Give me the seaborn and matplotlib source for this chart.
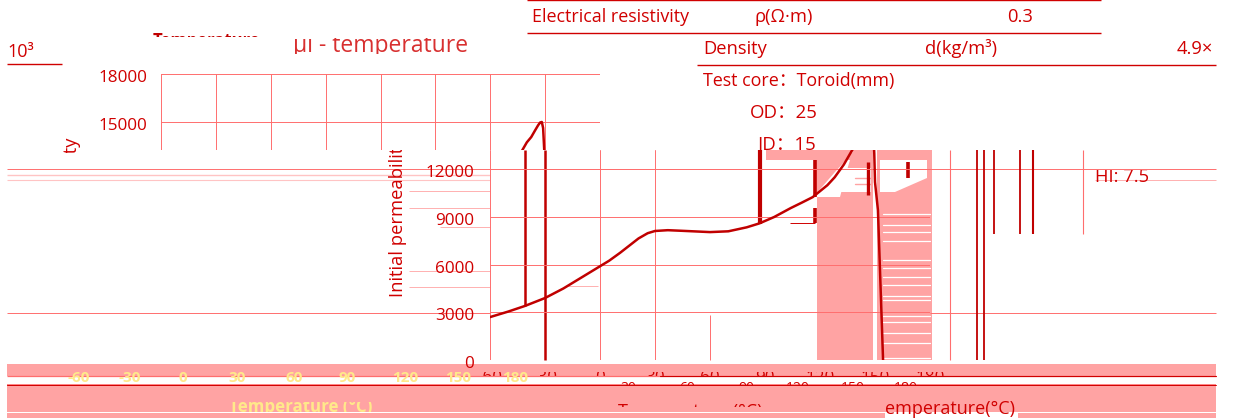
import matplotlib
matplotlib.use('Agg')
import matplotlib.pyplot as plt
from matplotlib.transforms import Bbox, ScaledTranslation
from matplotlib.patches import Polygon, Rectangle
import pandas as pd
import seaborn as sns

W, H = 1234, 419
RED = '#d00000'
DARK = '#c00000'
GRID = '#ff6e6e'
PINK = '#ffa3a3'
YEL = '#ffe98a'

# curve
temp = [-60, -50, -41, -30, -20, -10, 0, 5, 11, 16, 21, 26, 30, 37, 45, 60, 70, 80, 87, 95, 104, 110, 116, 124, 128,
        133, 137.5, 140, 142.4, 144.5, 146.2, 147.3, 148.2, 148.9, 149.3, 149.6, 150, 151.6, 154.4]
mu = [2700, 3050, 3400, 3900, 4500, 5200, 5900, 6250, 6750, 7200, 7650, 7980, 8120, 8170, 8130, 8050, 8100, 8350, 8600, 9000, 9560, 9900, 10250, 11000, 11500,
      12300, 13200, 13700, 14030, 14450, 14780, 14950, 14980, 14600, 13700, 13000, 11200, 9430, 0]
x_ticks = [-60, -30, 0, 30, 60, 90, 120, 150, 180]
y_ticks_low = [0, 3000, 6000, 9000, 12000]
y_ticks_high = [15000, 18000]
y_split = 13217

curve = pd.DataFrame({'Temperature': temp, 'mu': mu})

sns.set_style('white')
plt.rcParams['font.family'] = ['Open Sans', 'Noto Sans CJK SC', 'DejaVu Sans']
fig = plt.figure(figsize=(W / 100, H / 100), dpi=100)


def px_axes(x0, y0, x1, y1, z):
    a = fig.add_axes([x0 / W, 1 - y1 / H, (x1 - x0) / W, (y1 - y0) / H], zorder=z)
    a.patch.set_alpha(0)
    return a


def clip(x0, y0, x1, y1):
    return Bbox([[x0, H - y1], [x1, H - y0]])


bg = px_axes(0, 0, W, H, 0)
bg.set_xlim(0, W)
bg.set_ylim(H, 0)
bg.axis('off')
top = px_axes(0, 0, W, H, 5)
top.set_xlim(0, W)
top.set_ylim(H, 0)
top.axis('off')


def txt(x, y, s, size=13.2, color=RED, ha='left', box=None, rot=0, weight='normal', ax=top):
    t = ax.text(x, y, s, fontsize=size, color=color, ha=ha, va='center', rotation=rot, fontweight=weight)
    if box is not None:
        t.set_clip_box(clip(*box))
        t.set_clip_on(True)
    return t


# pink glitch blocks
for x0, y0, x1, y1 in [(7, 364, 1216, 376), (817, 197, 873, 360), (877, 150, 932, 360), (766, 150, 852, 160)]:
    bg.add_patch(Rectangle((x0, y0), x1 - x0, y1 - y0, color=PINK, lw=0))
bg.add_patch(Polygon([(815, 160), (846, 160), (835, 172), (815, 195)], color=PINK, lw=0))
bg.add_patch(Polygon([(853, 150), (873, 150), (873, 197), (840, 197), (847, 170)], color=PINK, lw=0))
bg.add_patch(Polygon([(880, 160), (927, 160), (927, 178), (895, 192), (880, 192)], color='white', lw=0))
bg.add_patch(Polygon([(845, 168), (871, 168), (871, 192), (832, 192)], color='white', lw=0))
for y in [214, 225, 232, 241, 260, 268, 277, 285, 296, 300, 316, 322, 333, 343, 358]:
    bg.plot([883, 930], [y, y], color='white', lw=0.9)
for y in [153, 156, 162, 178, 184]:
    bg.plot([855, 872], [y, y], color=PINK, lw=1)

# stray horizontal rules
for x0, x1, y, c, lw in [(7, 490, 169, GRID, 0.7), (7, 490, 175, '#ffc4c4', 1), (7, 490, 180, '#ffc4c4', 0.8),
                         (490, 1216, 169, GRID, 0.7), (7, 490, 313, GRID, 0.7), (930, 1216, 313, GRID, 0.7),
                         (1095, 1216, 180, '#ffb0b0', 0.7), (409, 490, 191, '#ffb0b0', 0.7), (409, 490, 208, '#ffb0b0', 0.7),
                         (440, 490, 227, '#ffb0b0', 0.7), (409, 490, 271, '#ffb0b0', 0.7), (409, 490, 287, '#ffb0b0', 0.7),
                         (568, 598, 286, '#ffb0b0', 0.7), (7, 62, 64, RED, 1), (527, 1101, 0.5, RED, 1),
                         (527, 1101, 33, RED, 1), (697, 1216, 65, RED, 1), (790, 815, 223, RED, 0.7)]:
    bg.plot([x0, x1], [y, y], color=c, lw=lw, solid_capstyle='butt')

# stray vertical strokes
for x, y0, y1, c, lw in [(525, 150, 306, DARK, 1.8), (545, 150, 360, DARK, 1.8), (760, 150, 224, DARK, 3),
                         (815, 160, 197, DARK, 2.6), (815, 208, 223, DARK, 2.6), (868, 162, 195, DARK, 2.4),
                         (908, 162, 178, DARK, 2.6), (950, 150, 360, GRID, 0.8), (977, 150, 360, DARK, 1.3),
                         (984, 150, 360, DARK, 1.3), (993.5, 150, 234, DARK, 1.3), (1020, 150, 234, DARK, 1.3),
                         (1033, 150, 234, DARK, 1.5), (1083, 150, 234, GRID, 0.8), (710, 315, 360, GRID, 0.7)]:
    bg.plot([x, x], [y0, y1], color=c, lw=lw, solid_capstyle='butt')

# labels sit a little under their grid lines
nudge = ScaledTranslation(0, -2 / 100, fig.dpi_scale_trans)

# lower slice of the chart
low = px_axes(490, 150, 930, 360, 2)
sns.lineplot(data=curve, x='Temperature', y='mu', estimator=None, sort=False, color=DARK, lw=1.8, ax=low)
low.set_xlim(-60, 180)
low.set_ylim(0, y_split)
low.set_xticks(x_ticks)
low.set_xticklabels([])
low.set_yticks(y_ticks_low)
low.set_xlabel('')
low.set_ylabel('')
low.grid(True, color=GRID, lw=0.7)
for i in [1, 4, 5, 6, 7]:
    low.get_xgridlines()[i].set_visible(False)
for s in low.spines.values():
    s.set_visible(False)
low.tick_params(axis='y', labelsize=12.3, labelcolor=RED, length=0, pad=11.5)
low.tick_params(axis='x', length=0)
for lab in low.get_yticklabels():
    lab.set_transform(lab.get_transform() + nudge)
# only the tops of the x tick labels survive in the picture
for t in x_ticks:
    lab = low.text(t, -18 / 210, str(t), transform=low.get_xaxis_transform(), fontsize=12.3, color=RED, ha='center', va='center')
    lab.set_clip_box(clip(0, 372, W, 377))
    lab.set_clip_on(True)

# upper slice, moved to the left
high = px_axes(161, 74, 600, 150, 2)
sns.lineplot(data=curve, x='Temperature', y='mu', estimator=None, sort=False, color=DARK, lw=1.8, ax=high)
high.set_xlim(-60, 180)
high.set_ylim(y_split, 18000)
high.set_xticks(x_ticks)
high.set_xticklabels([])
high.set_yticks(y_ticks_high)
high.set_xlabel('')
high.set_ylabel('')
high.grid(True, color=GRID, lw=0.7)
for name, s in high.spines.items():
    s.set_visible(False)
high.tick_params(axis='y', labelsize=12.3, labelcolor=RED, length=0, pad=10)
high.tick_params(axis='x', length=0)
for lab in high.get_yticklabels():
    lab.set_transform(lab.get_transform() + nudge)

# table and notes
txt(532, 17, 'Electrical resistivity', size=12.9)
txt(755, 17, 'ρ(Ω·m)')
txt(1007, 17, '0.3')
txt(703, 49, 'Density')
txt(925, 49, 'd(kg/m³)')
txt(1177, 49, '4.9×')
txt(703, 81, 'Test core：Toroid(mm)', size=12.9)
txt(750, 113, 'OD：25', size=13.4)
txt(757, 145, 'ID：15', size=13.4, box=(0, 0, W, 150))
txt(1095, 177, 'HI: 7.5', box=(0, 170, W, 186))
txt(7, 52, '10³', size=13)

# title pieces, cut the way the picture cuts them
txt(153, 41, 'Temperature', size=12, color=DARK, box=(0, 30, W, 37), weight='bold')
txt(293, 46, 'μi - temperature', size=16.5, color='#d83030', box=(0, 38, W, 54))

# axis titles
txt(398, 217, 'Initial permeability', size=13.2, ha='center', rot=90, box=(0, 150, W, 300), ax=bg)
txt(72, 217, 'Initial permeability', size=13.2, ha='center', rot=90, box=(0, 120, W, 153), ax=bg)

# bottom band
for x0, y0, x1, y1 in [(7, 385, 1216, 412), (7, 413, 885, 418), (1018, 413, 1216, 418), (885, 385, 1018, 402)]:
    top.add_patch(Rectangle((x0, y0), x1 - x0, y1 - y0, color=PINK, lw=0, zorder=1))
for y, lw in [(376, 0.9), (385, 1.2)]:
    top.plot([7, 1216], [y, y], color=GRID, lw=lw, solid_capstyle='butt', zorder=2)
top.plot([660, 1216], [376, 376], color=RED, lw=0.8, zorder=2)
top.plot([7, 1216], [385, 385], color=RED, lw=0.7, zorder=2)
for x, s in zip([79, 130, 183, 237, 294, 347, 405, 458, 515], x_ticks):
    txt(x, 378, str(s), size=11, color=YEL, ha='center', weight='bold', box=(0, 370, W, 385)).set_zorder(3)
for x, s in zip([628, 687, 746, 798, 853, 906], x_ticks[3:] + [180]):
    txt(x, 388, str(s), size=10, ha='center', box=(0, 380, W, 385))
txt(229, 407, 'Temperature (°C)', size=12.2, color=YEL, weight='bold', box=(0, 402, W, 412)).set_zorder(3)
txt(618, 412, 'Temperature (°C)', size=13, box=(0, 403, W, 407)).set_zorder(3)
txt(885, 409, 'emperature(°C)', size=13).set_zorder(3)

fig.savefig('out.png', dpi=100)
